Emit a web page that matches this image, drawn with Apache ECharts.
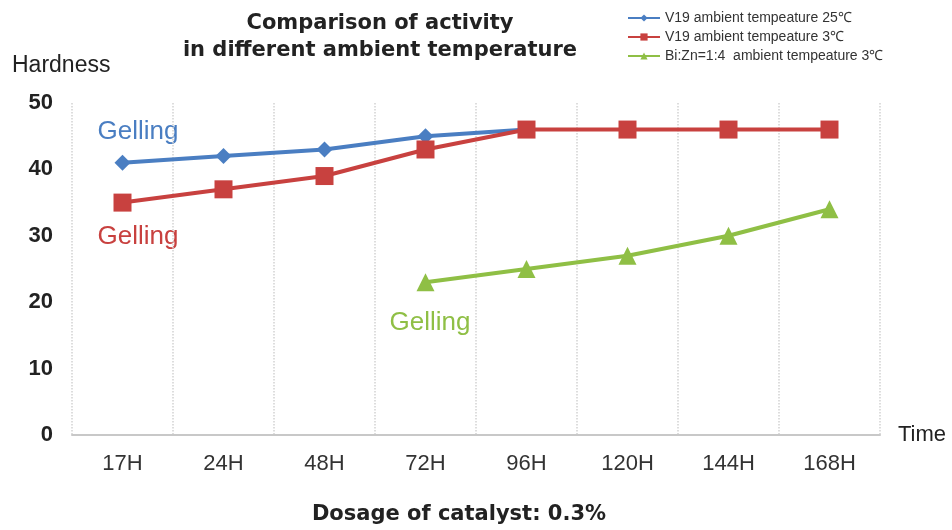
<!DOCTYPE html>
<html>
<head>
<meta charset="UTF-8">
<title>Comparison of activity</title>
<script src="https://cdn.jsdelivr.net/npm/echarts@6/dist/echarts.min.js"></script>
<style>html,body{margin:0;padding:0;background:#fff;}</style>
</head>
<body>
<div id="main" style="width:952px;height:530px;"></div>
<script type="text/javascript">
var categories = ['17H', '24H', '48H', '72H', '96H', '120H', '144H', '168H'];
var yTicks = [0, 10, 20, 30, 40, 50];
var v19Warm = [41, 42, 43, 45, 46, null, null, null];
var v19Cold = [35, 37, 39, 43, 46, 46, 46, 46];
var biZnCold = [null, null, null, 23, 25, 27, 30, 34];
var seriesNames = ['V19 ambient tempeature 25\u2103', 'V19 ambient tempeature 3\u2103', 'Bi:Zn=1:4  ambient tempeature 3\u2103'];

var blue = '#4a7ec2', red = '#c8413f', green = '#8fbf45';
var arial = 'Arial, "Liberation Sans", sans-serif';
var wide = '"DejaVu Sans", Arial, sans-serif';

var myChart = echarts.init(document.getElementById('main'));
myChart.setOption({
	backgroundColor: '#fff',
	animation: false,
	title: {
		text: 'Comparison of activity\nin different ambient temperature',
		left: 375,
		textAlign: 'center',
		top: 5,
		textStyle: { color: '#222', fontSize: 21, fontWeight: 'bold', lineHeight: 27, fontFamily: wide }
	},
	legend: {
		orient: 'vertical',
		left: 622,
		top: 6,
		itemGap: 5,
		itemWidth: 32,
		itemHeight: 9,
		textStyle: { color: '#333', fontSize: 14, fontFamily: arial },
		data: seriesNames
	},
	grid: { left: 72, right: 72, top: 103, bottom: 95 },
	xAxis: {
		type: 'category',
		data: categories,
		boundaryGap: true,
		name: 'Time',
		nameLocation: 'end',
		nameGap: 18,
		nameTextStyle: { color: '#222', fontSize: 22, fontFamily: arial, verticalAlign: 'middle' },
		axisLine: { lineStyle: { color: '#c8c8c8', width: 2 } },
		axisTick: { show: false },
		axisLabel: { color: '#333', fontSize: 22, margin: 18, fontFamily: arial },
		splitLine: { show: true, interval: 0, lineStyle: { color: '#d2d2d2', type: 'dotted', width: 1.5 } }
	},
	yAxis: {
		type: 'value',
		min: yTicks[0],
		max: yTicks[yTicks.length - 1],
		interval: 10,
		name: 'Hardness',
		nameLocation: 'end',
		nameGap: 26,
		nameTextStyle: { color: '#222', fontSize: 23, align: 'left', padding: [0, 0, 0, -60], fontFamily: arial },
		axisLine: { show: false },
		axisTick: { show: false },
		splitLine: { show: false },
		axisLabel: { color: '#222', fontSize: 22, fontWeight: 'bold', margin: 19, fontFamily: arial }
	},
	series: [{
		name: seriesNames[0],
		type: 'line',
		data: v19Warm,
		symbol: 'diamond',
		symbolSize: 16,
		lineStyle: { color: blue, width: 4 },
		itemStyle: { color: blue },
		z: 2
	}, {
		name: seriesNames[1],
		type: 'line',
		data: v19Cold,
		symbol: 'rect',
		symbolSize: 18,
		lineStyle: { color: red, width: 4 },
		itemStyle: { color: red },
		z: 3
	}, {
		name: seriesNames[2],
		type: 'line',
		data: biZnCold,
		symbol: 'triangle',
		symbolSize: 18,
		lineStyle: { color: green, width: 4 },
		itemStyle: { color: green },
		z: 2
	}],
	graphic: [
		{ type: 'text', x: 138, y: 132, style: { text: 'Gelling', fill: blue, fontSize: 26, fontFamily: arial, textAlign: 'center', textVerticalAlign: 'middle' } },
		{ type: 'text', x: 138, y: 237, style: { text: 'Gelling', fill: red, fontSize: 26, fontFamily: arial, textAlign: 'center', textVerticalAlign: 'middle' } },
		{ type: 'text', x: 430, y: 323, style: { text: 'Gelling', fill: green, fontSize: 26, fontFamily: arial, textAlign: 'center', textVerticalAlign: 'middle' } },
		{ type: 'text', x: 459, y: 515, style: { text: 'Dosage of catalyst: 0.3%', fill: '#222', fontSize: 21, fontWeight: 'bold', fontFamily: wide, textAlign: 'center', textVerticalAlign: 'middle' } }
	]
});
</script>
</body>
</html>
